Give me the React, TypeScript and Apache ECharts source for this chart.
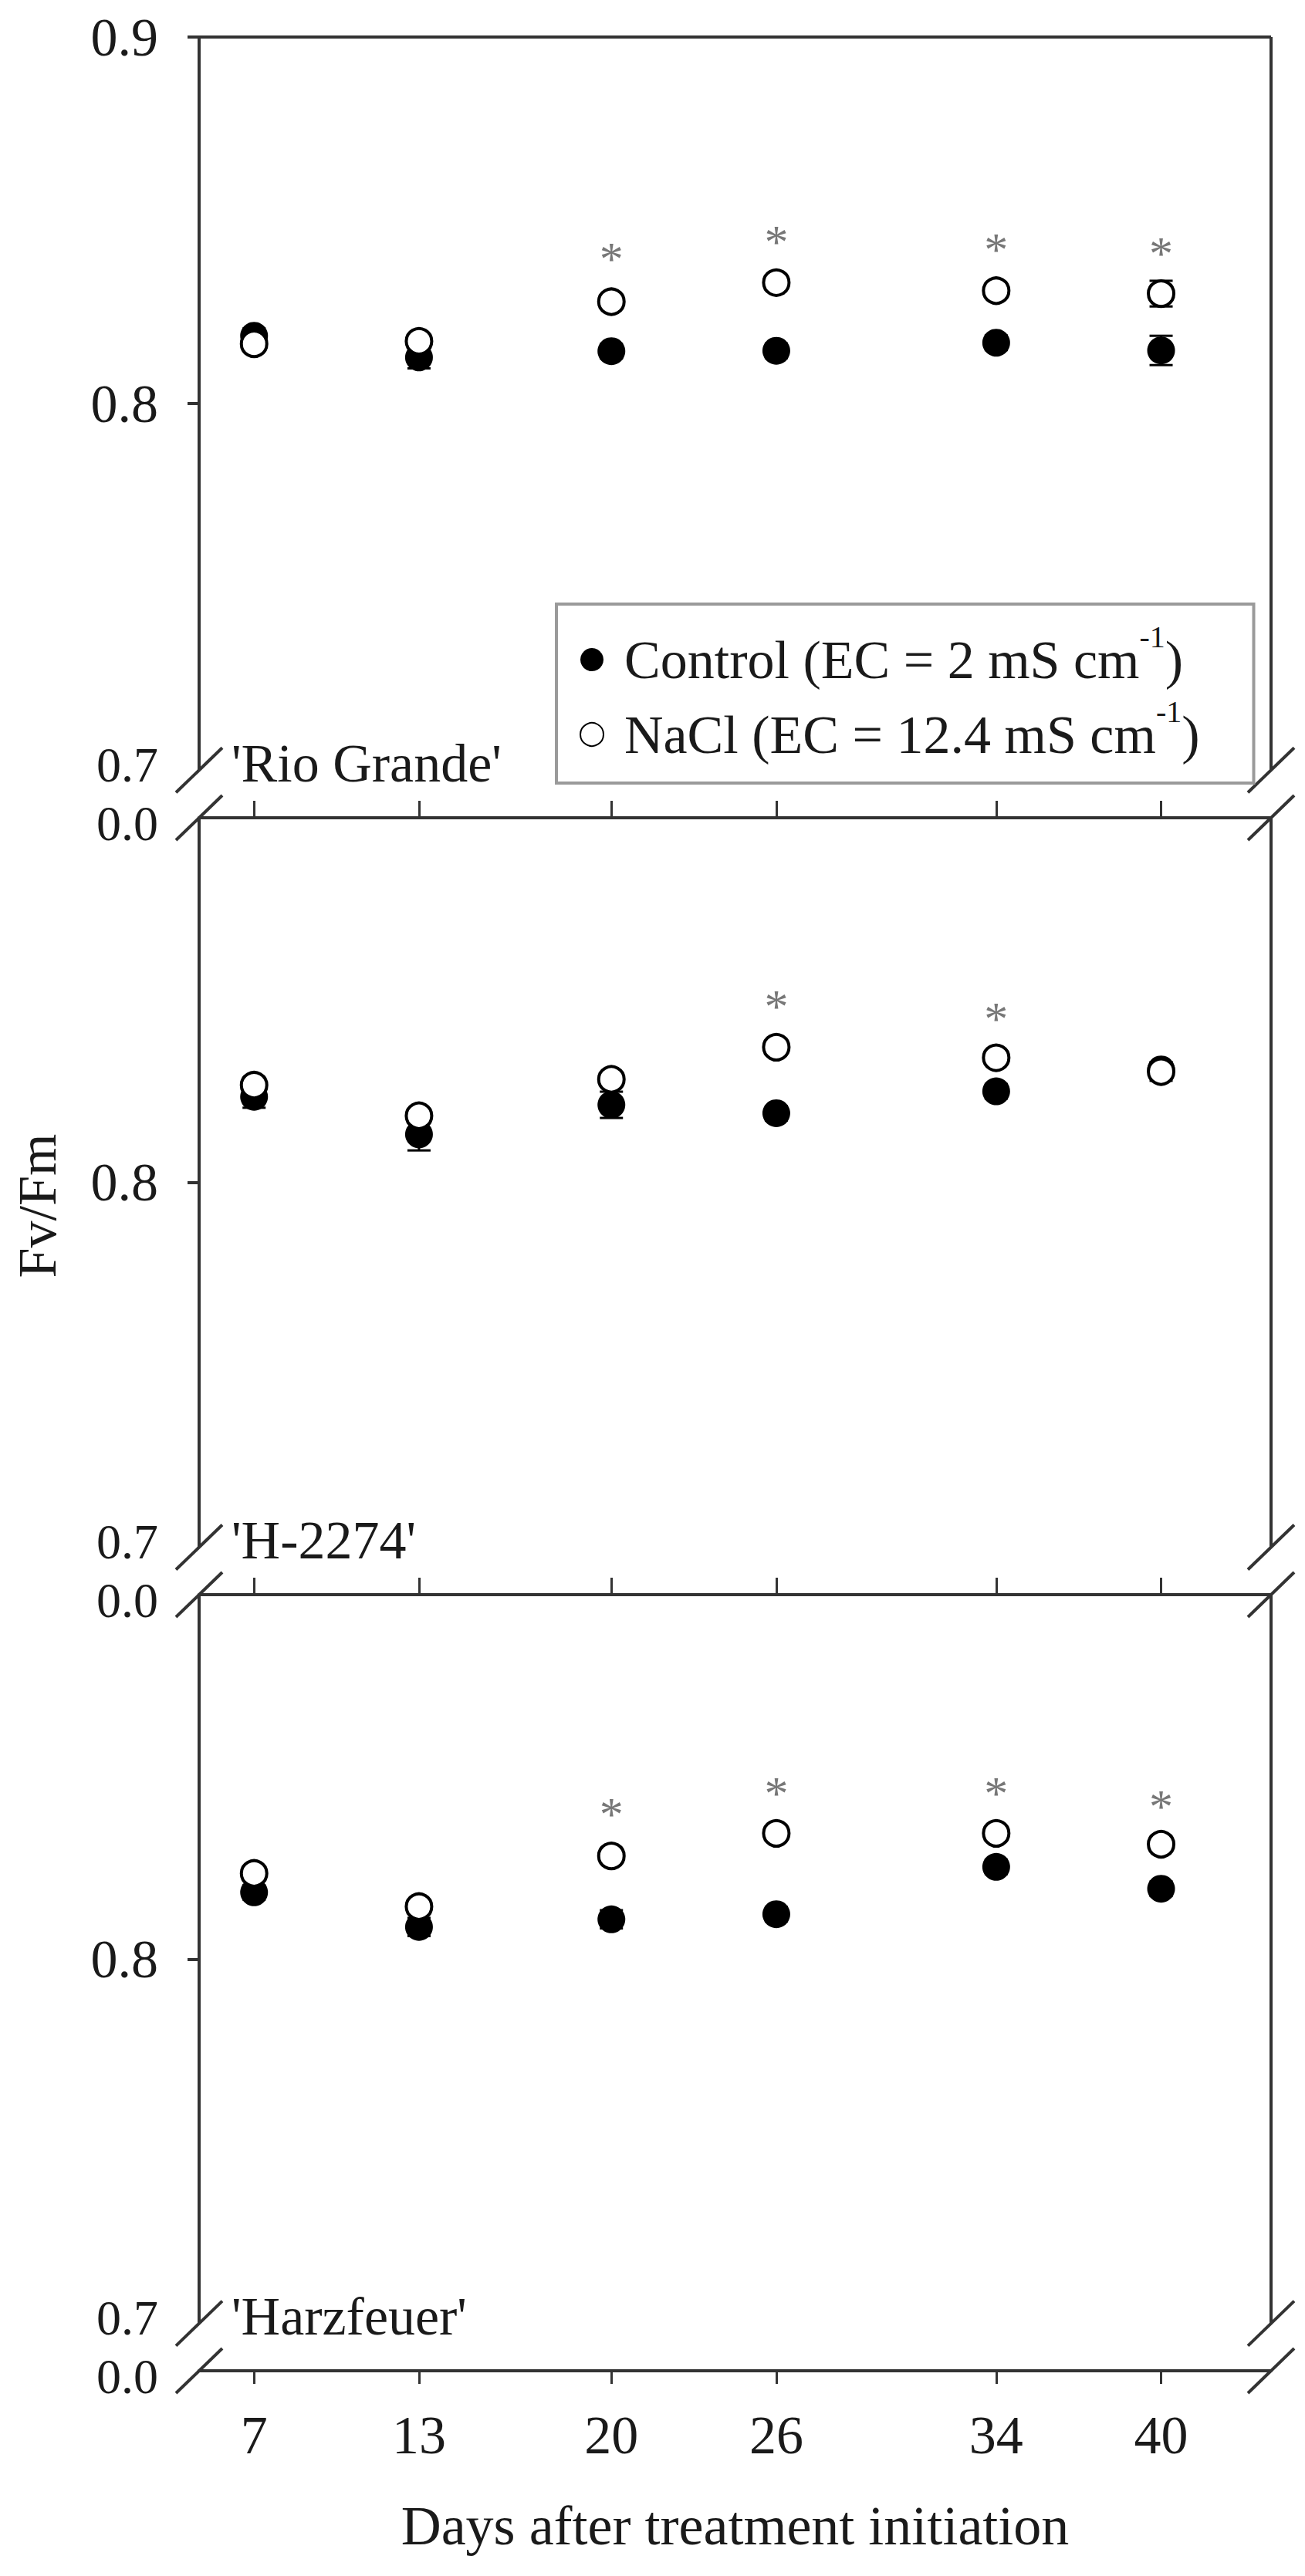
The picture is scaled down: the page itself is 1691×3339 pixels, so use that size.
import React, { useEffect, useRef } from "react";
import * as echarts from "echarts";

const days = [7, 13, 20, 26, 34, 40];

const rioControl = [0.8185, 0.8126, 0.8143, 0.8144, 0.8166, 0.8145];
const rioControlErr = [0.002, 0.003, 0.002, 0.002, 0.002, 0.004];
const rioNaCl = [0.8163, 0.817, 0.8278, 0.833, 0.8308, 0.83];
const rioNaClErr = [0.002, 0.002, 0.002, 0.002, 0.002, 0.0035];
const rioStarDays = [20, 26, 34, 40];
const rioStar = [0.8419, 0.8465, 0.8444, 0.8434];

const h2274Control = [0.8235, 0.8132, 0.8213, 0.819, 0.825, 0.831];
const h2274ControlErr = [0.003, 0.0044, 0.0036, 0.002, 0.002, 0.002];
const h2274NaCl = [0.8267, 0.8183, 0.8283, 0.8371, 0.8342, 0.8304];
const h2274NaClErr = [0.002, 0.002, 0.002, 0.002, 0.002, 0.0025];
const h2274StarDays = [26, 34];
const h2274Star = [0.8507, 0.8474];

const harzControl = [0.8183, 0.8088, 0.8109, 0.8123, 0.8253, 0.8193];
const harzControlErr = [0.002, 0.0025, 0.0025, 0.002, 0.002, 0.002];
const harzNaCl = [0.8235, 0.8144, 0.8283, 0.8345, 0.8345, 0.8315];
const harzNaClErr = [0.002, 0.002, 0.002, 0.002, 0.002, 0.002];
const harzStarDays = [20, 26, 34, 40];
const harzStar = [0.8423, 0.848, 0.848, 0.8444];

const varieties = ["'Rio Grande'", "'H-2274'", "'Harzfeuer'"];
const yTickLabelsTop = [0.8, 0.9];
const yTickLabels = [0.8];
const lowLabel = "0.7";
const breakLabel = "0.0";

const CONTROL = "Control (EC = 2 mS cm-1)";
const NACL = "NaCl (EC = 12.4 mS cm-1)";

const FONT = "'Liberation Serif', 'Times New Roman', serif";
const INK = "#1a1a1a";
const LINE = "#333";

const X_MIN = 5;
const X_MAX = 44;
const Y_MIN = 0.687;
const Y_MAX = 0.9;
const Y_LOW = 0.7;

const panels = [
  { control: rioControl, cErr: rioControlErr, nacl: rioNaCl, nErr: rioNaClErr, starDays: rioStarDays, star: rioStar },
  { control: h2274Control, cErr: h2274ControlErr, nacl: h2274NaCl, nErr: h2274NaClErr, starDays: h2274StarDays, star: h2274Star },
  { control: harzControl, cErr: harzControlErr, nacl: harzNaCl, nErr: harzNaClErr, starDays: harzStarDays, star: harzStar },
];

const gridTops = [48, 1060, 2067];
const gridHeights = [1012, 1007, 1006];

export default function App() {
  const ref = useRef<HTMLDivElement>(null);

  useEffect(() => {
    document.body.style.margin = "0";
    if (!ref.current) return;
    const chart = echarts.init(ref.current, undefined, { renderer: "svg" });

    const grids = gridTops.map((t, i) => ({ left: 258, width: 1389, top: t, height: gridHeights[i] }));

    const xAxes = panels.map((_, i) => ({
      gridIndex: i,
      type: "value",
      min: X_MIN,
      max: X_MAX,
      axisLine: { show: true, onZero: false, lineStyle: { color: LINE, width: 4 } },
      axisTick: {
        show: true,
        inside: i < 2,
        length: i < 2 ? 22 : 17,
        customValues: days,
        lineStyle: { color: LINE, width: 3 },
      },
      axisLabel: {
        show: i === 2,
        customValues: days,
        margin: 48,
        fontSize: 70,
        fontFamily: FONT,
        color: INK,
      },
      splitLine: { show: false },
      name: i === 2 ? "Days after treatment initiation" : "",
      nameLocation: "middle",
      nameGap: 165,
      nameTextStyle: { fontSize: 72, fontFamily: FONT, color: INK },
    }));

    const yAxes = panels.map((_, i) => ({
      gridIndex: i,
      type: "value",
      min: Y_MIN,
      max: Y_MAX,
      axisLine: { show: false },
      axisTick: {
        show: true,
        length: 15,
        customValues: i === 0 ? [0.8, 0.9] : [0.8],
        lineStyle: { color: LINE, width: 4 },
      },
      axisLabel: {
        customValues: i === 0 ? yTickLabelsTop : yTickLabels,
        formatter: (v: number) => v.toFixed(1),
        margin: 53,
        fontSize: 70,
        fontFamily: FONT,
        color: INK,
      },
      splitLine: { show: false },
    }));

    const series: any[] = [];
    panels.forEach((p, i) => {
      const errSeries = (vals: number[], errs: number[]) => ({
        type: "custom",
        xAxisIndex: i,
        yAxisIndex: i,
        z: 2,
        silent: true,
        renderItem: (params: any, api: any) => {
          const x = api.value(0);
          const v = api.value(1);
          const e = api.value(2);
          const top = api.coord([x, v + e]);
          const bot = api.coord([x, v - e]);
          const hw = 15;
          const st = { stroke: "#000", lineWidth: 3 };
          return {
            type: "group",
            children: [
              { type: "line", shape: { x1: top[0], y1: top[1], x2: bot[0], y2: bot[1] }, style: st },
              { type: "line", shape: { x1: top[0] - hw, y1: top[1], x2: top[0] + hw, y2: top[1] }, style: st },
              { type: "line", shape: { x1: bot[0] - hw, y1: bot[1], x2: bot[0] + hw, y2: bot[1] }, style: st },
            ],
          };
        },
        data: days.map((d, j) => [d, vals[j], errs[j]]),
      });
      series.push(errSeries(p.control, p.cErr));
      series.push(errSeries(p.nacl, p.nErr));
      series.push({
        name: CONTROL,
        type: "scatter",
        xAxisIndex: i,
        yAxisIndex: i,
        symbol: "circle",
        symbolSize: 36,
        z: 3,
        itemStyle: { color: "#000", opacity: 1 },
        data: days.map((d, j) => [d, p.control[j]]),
      });
      series.push({
        name: NACL,
        type: "scatter",
        xAxisIndex: i,
        yAxisIndex: i,
        symbol: "circle",
        symbolSize: 33,
        z: 4,
        itemStyle: { color: "#fff", borderColor: "#000", borderWidth: 4, opacity: 1 },
        data: days.map((d, j) => [d, p.nacl[j]]),
      });
      series.push({
        type: "scatter",
        xAxisIndex: i,
        yAxisIndex: i,
        symbolSize: 1,
        z: 5,
        silent: true,
        itemStyle: { color: "rgba(0,0,0,0)" },
        label: {
          show: true,
          position: "inside",
          formatter: "*",
          fontSize: 62,
          fontFamily: FONT,
          color: "#555",
          offset: [0, 11],
        },
        data: p.starDays.map((d, j) => [d, p.star[j]]),
      });
    });

    const legendFormatter = (name: string) => {
      const base = name.replace("-1)", "");
      return `{a|${base}}{s|-1}{a|)}`;
    };

    chart.setOption({
      animation: false,
      backgroundColor: "#fff",
      grid: grids,
      xAxis: xAxes,
      yAxis: yAxes,
      legend: {
        show: true,
        left: 721,
        top: 783,
        orient: "vertical",
        data: [
          { name: CONTROL, icon: "circle", itemStyle: { color: "#000" } },
          { name: NACL, icon: "circle", itemStyle: { color: "#fff", borderColor: "#000", borderWidth: 2 } },
        ],
        itemWidth: 30,
        itemHeight: 30,
        itemGap: 12,
        padding: [22, 70, 28, 30],
        borderColor: "#9a9a9a",
        borderWidth: 4,
        backgroundColor: "#fff",
        selectedMode: false,
        formatter: legendFormatter,
        textStyle: {
          fontSize: 70,
          fontFamily: FONT,
          color: INK,
          padding: [0, 0, 0, 22],
          rich: {
            a: { fontSize: 70, fontFamily: FONT, color: INK, lineHeight: 100 },
            s: { fontSize: 40, fontFamily: FONT, color: INK, verticalAlign: "top" },
          },
        },
      },
      series,
    });

    const graphics: any[] = [];
    const st = { stroke: LINE, lineWidth: 4 };
    const slash = (x: number, y: number) => ({
      type: "line",
      shape: { x1: x - 30, y1: y + 29, x2: x + 30, y2: y - 29 },
      style: st,
    });
    const labelStyle = (text: string, align: string, size = 70) => ({
      text,
      fontSize: size,
      fontFamily: FONT,
      fill: INK,
      align,
      verticalAlign: "middle",
    });
    panels.forEach((_, i) => {
      const c = (pt: number[]) => chart.convertToPixel({ xAxisIndex: i, yAxisIndex: i } as any, pt) as number[];
      const tl = c([X_MIN, Y_MAX]);
      const tr = c([X_MAX, Y_MAX]);
      const l7 = c([X_MIN, Y_LOW]);
      const r7 = c([X_MAX, Y_LOW]);
      const l0 = c([X_MIN, Y_MIN]);
      const r0 = c([X_MAX, Y_MIN]);
      graphics.push({ type: "line", shape: { x1: tl[0], y1: tl[1], x2: l7[0], y2: l7[1] }, style: st });
      graphics.push({ type: "line", shape: { x1: tr[0], y1: tr[1], x2: r7[0], y2: r7[1] }, style: st });
      if (i === 0) {
        graphics.push({ type: "line", shape: { x1: tl[0], y1: tl[1], x2: tr[0], y2: tr[1] }, style: st });
      }
      graphics.push(slash(l7[0], l7[1]));
      graphics.push(slash(l0[0], l0[1]));
      graphics.push(slash(r7[0], r7[1]));
      graphics.push(slash(r0[0], r0[1]));
      graphics.push({ type: "text", x: l7[0] - 53, y: l7[1] - 7, z: 10, style: labelStyle(lowLabel, "right", 64) });
      graphics.push({ type: "text", x: l0[0] - 53, y: l0[1] + 7, z: 10, style: labelStyle(breakLabel, "right", 64) });
      graphics.push({ type: "text", x: 300, y: l7[1] - 9, z: 10, style: labelStyle(varieties[i], "left") });
    });
    graphics.push({
      type: "text",
      x: 48,
      y: 1563,
      rotation: Math.PI / 2,
      style: labelStyle("Fv/Fm", "center"),
    });
    chart.setOption({ graphic: graphics });

    return () => chart.dispose();
  }, []);

  return <div ref={ref} style={{ width: 1691, height: 3339 }} />;
}
